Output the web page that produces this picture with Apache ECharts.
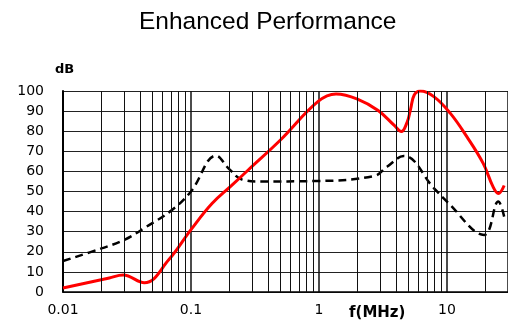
<!DOCTYPE html>
<html>
<head>
<meta charset="utf-8">
<script src="https://cdn.jsdelivr.net/npm/echarts@6/dist/echarts.min.js"></script>
<style>
  html, body { margin: 0; padding: 0; background: #fff; }
  #chart { width: 508px; height: 322px; }
</style>
</head>
<body>
<div id="chart"></div>
<script>
// f (MHz) / dB pairs
var enhanced = [
  [0.01, 2], [0.023, 7], [0.0295, 8.4], [0.0432, 4.6], [0.067, 16], [0.1, 31],
  [0.146, 44], [0.208, 53], [0.28, 60.7], [0.5, 75.6], [0.98, 94.7],
  [1.36, 98.5], [2.0, 96], [2.9, 90.3], [3.86, 83], [4.4, 79.8], [4.9, 84.7],
  [5.2, 91], [5.55, 98], [6.2, 100], [7.9, 97.2], [10.6, 89], [14.3, 77.3],
  [19.2, 64], [22.9, 52.4], [25.2, 49], [28, 53]
]
var standard = [
  [0.01, 15.4], [0.02, 21.7], [0.03, 25.9], [0.045, 32.5], [0.071, 40.8],
  [0.1, 50], [0.157, 67.8], [0.2, 61], [0.25, 56], [0.35, 55], [0.93, 55.2],
  [2.7, 57.7], [3.4, 62.3], [4.6, 67.7], [7.9, 51.7], [10, 45], [19.5, 28.4],
  [25.2, 45], [28, 37.5]
]
var xTickLabels = ['0.01', '0.1', '1', '10']
// minor vertical grid lines (2..9 of each decade)
var minorGrid = [0.02, 0.03, 0.04, 0.05, 0.06, 0.07, 0.08, 0.09,
  0.2, 0.3, 0.4, 0.5, 0.6, 0.7, 0.8, 0.9,
  2, 3, 4, 5, 6, 7, 8, 9, 20]

var chart = echarts.init(document.getElementById('chart'))
chart.setOption({
  animation: false,
  title: [{
    text: 'Enhanced Performance',
    left: 134,
    top: 5,
    textStyle: { fontFamily: 'Liberation Sans', fontSize: 24.5, fontWeight: 'normal', color: '#000' }
  }, {
    text: 'dB',
    left: 50,
    top: 58,
    textStyle: { fontFamily: 'DejaVu Sans', fontSize: 13, fontWeight: 'bold', color: '#000' }
  }, {
    text: 'f(MHz)',
    left: 344,
    top: 301,
    textStyle: { fontFamily: 'DejaVu Sans', fontSize: 15, fontWeight: 'bold', color: '#000' }
  }],
  grid: {
    left: 63,
    right: -4,
    top: 91,
    bottom: 30,
    containLabel: false
  },
  xAxis: {
    type: 'log',
    logBase: 10,
    min: 0.01,
    max: 30,
    interval: 1,
    axisLine: { lineStyle: { color: '#000', width: 1.5 } },
    axisTick: { show: false },
    axisLabel: {
      showMaxLabel: false,
      margin: 11,
      color: '#000',
      fontFamily: 'DejaVu Sans',
      fontSize: 14,
      formatter: function (v) {
        var s = String(+v.toPrecision(3))
        return xTickLabels.indexOf(s) >= 0 ? s : ''
      }
    },
    splitLine: { show: true, lineStyle: { color: '#111', width: 1.5 } }
  },
  yAxis: {
    type: 'value',
    min: 0,
    max: 100,
    interval: 10,
    axisLine: { show: true, lineStyle: { color: '#000', width: 2 } },
    axisTick: { show: false },
    axisLabel: { margin: 19, color: '#000', fontFamily: 'DejaVu Sans', fontSize: 14 },
    splitLine: { show: true, lineStyle: { color: '#222', width: 1 } }
  },
  series: [{
    type: 'line',
    data: [],
    z: 1,
    silent: true,
    markLine: {
      silent: true,
      symbol: 'none',
      label: { show: false },
      lineStyle: { color: '#111', width: 1, type: 'solid' },
      data: minorGrid.map(function (v) { return { xAxis: v } })
    }
  }, {
    name: 'standard',
    type: 'line',
    data: standard,
    smooth: 0.4,
    showSymbol: false,
    z: 3,
    lineStyle: { color: '#000', width: 2.5, type: [8, 5] }
  }, {
    name: 'enhanced',
    type: 'line',
    data: enhanced,
    smooth: 0.4,
    showSymbol: false,
    z: 4,
    lineStyle: { color: '#ff0000', width: 3 }
  }]
})
</script>
</body>
</html>
